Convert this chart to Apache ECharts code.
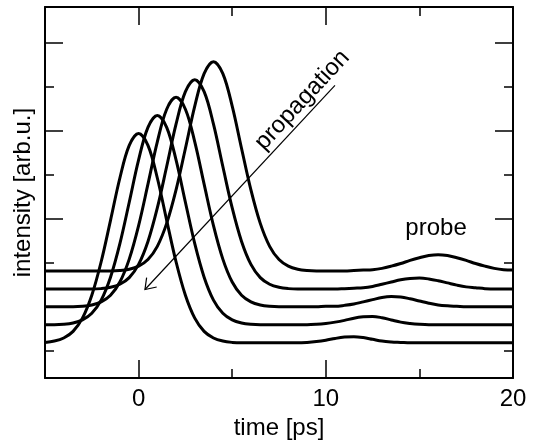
<!DOCTYPE html>
<html>
<head>
<meta charset="utf-8">
<script src="https://cdn.jsdelivr.net/npm/echarts@6/dist/echarts.min.js"></script>
<style>
  html, body { margin: 0; padding: 0; background: #ffffff; }
  #chart { width: 535px; height: 445px; }
</style>
</head>
<body>
<div id="chart"></div>
<script>
// time axis samples [ps]
const times = [
  -5, -4.5, -4, -3.5, -3, -2.5, -2, -1.5, -1, -0.5, 0,
  0.5, 1, 1.5, 2, 2.5, 3, 3.5, 4, 4.5, 5,
  5.5, 6, 6.5, 7, 7.5, 8, 8.5, 9, 9.5, 10,
  10.5, 11, 11.5, 12, 12.5, 13, 13.5, 14, 14.5, 15,
  15.5, 16, 16.5, 17, 17.5, 18, 18.5, 19, 19.5, 20
];

// intensity traces, stacked with a vertical offset (bottom to top)
const trace1 = [
  1.20, 1.23, 1.30, 1.45, 1.75, 2.27, 3.03, 3.97, 4.93, 5.67, 5.94,
  5.67, 4.93, 3.97, 3.03, 2.27, 1.75, 1.45, 1.30, 1.23, 1.20,
  1.19, 1.19, 1.19, 1.19, 1.19, 1.19, 1.19, 1.20, 1.22, 1.25,
  1.29, 1.32, 1.33, 1.31, 1.27, 1.23, 1.21, 1.20, 1.19, 1.19,
  1.19, 1.19, 1.19, 1.19, 1.19, 1.19, 1.19, 1.19, 1.19, 1.19
];
const trace2 = [
  1.60, 1.60, 1.61, 1.64, 1.71, 1.86, 2.16, 2.68, 3.44, 4.38, 5.34,
  6.08, 6.35, 6.08, 5.34, 4.38, 3.44, 2.68, 2.16, 1.86, 1.71,
  1.64, 1.61, 1.60, 1.60, 1.60, 1.60, 1.60, 1.60, 1.61, 1.63,
  1.66, 1.70, 1.75, 1.78, 1.79, 1.76, 1.71, 1.66, 1.63, 1.61,
  1.60, 1.60, 1.60, 1.60, 1.60, 1.60, 1.60, 1.60, 1.60, 1.60
];
const trace3 = [
  2.01, 2.01, 2.01, 2.01, 2.02, 2.05, 2.12, 2.27, 2.57, 3.09, 3.85,
  4.79, 5.75, 6.49, 6.76, 6.49, 5.75, 4.79, 3.85, 3.09, 2.57,
  2.27, 2.12, 2.05, 2.02, 2.01, 2.01, 2.01, 2.01, 2.01, 2.02,
  2.02, 2.04, 2.07, 2.12, 2.17, 2.22, 2.24, 2.23, 2.19, 2.14,
  2.09, 2.05, 2.03, 2.02, 2.01, 2.01, 2.01, 2.01, 2.01, 2.01
];
const trace4 = [
  2.41, 2.41, 2.41, 2.41, 2.41, 2.41, 2.42, 2.45, 2.52, 2.67, 2.97,
  3.49, 4.25, 5.19, 6.15, 6.89, 7.16, 6.89, 6.15, 5.19, 4.25,
  3.49, 2.97, 2.67, 2.52, 2.45, 2.42, 2.41, 2.41, 2.41, 2.41,
  2.41, 2.42, 2.43, 2.44, 2.47, 2.52, 2.57, 2.62, 2.65, 2.66,
  2.64, 2.60, 2.55, 2.50, 2.46, 2.44, 2.42, 2.41, 2.41, 2.41
];
const trace5 = [
  2.82, 2.82, 2.82, 2.82, 2.82, 2.82, 2.82, 2.82, 2.83, 2.86, 2.93,
  3.08, 3.38, 3.90, 4.66, 5.60, 6.56, 7.30, 7.57, 7.30, 6.56,
  5.60, 4.66, 3.90, 3.38, 3.08, 2.93, 2.86, 2.83, 2.82, 2.82,
  2.82, 2.82, 2.83, 2.84, 2.85, 2.88, 2.93, 2.99, 3.06, 3.12,
  3.17, 3.19, 3.17, 3.12, 3.06, 2.99, 2.93, 2.88, 2.85, 2.84
];
const traces = [trace1, trace2, trace3, trace4, trace5];

// axis ranges and tick positions
const xRange = [-5, 20];
const yRange = [0.39, 8.81];
const xMajorTicks = [0, 10, 20];
const xMinorTicks = [5, 15];
const yMajorTicks = [2, 4, 6, 8];
const yMinorTicks = [1, 3, 5, 7];

// annotation anchors in data coordinates
const arrowTail = [10.49, 7.03];
const arrowTip = [0.34, 2.40];
const propagationCenter = [8.75, 6.70];
const probeCenter = [15.89, 3.79];

const FONT = "'Liberation Sans', Arial, Helvetica, sans-serif";
const INK = '#000000';

const chart = echarts.init(document.getElementById('chart'), null, { renderer: 'canvas' });

function xAxisDef(position, ticks, len, withLine, withLabels) {
  return {
    type: 'value', position, min: xRange[0], max: xRange[1],
    axisLine: { show: withLine, onZero: false, lineStyle: { color: INK, width: 2 } },
    axisTick: { show: true, inside: true, length: len, customValues: ticks,
                lineStyle: { color: INK, width: 1.5 } },
    axisLabel: withLabels
      ? { show: true, customValues: ticks, margin: 9, color: INK, fontSize: 24, fontFamily: FONT }
      : { show: false },
    splitLine: { show: false }
  };
}
function yAxisDef(position, ticks, len, withLine) {
  return {
    type: 'value', position, min: yRange[0], max: yRange[1],
    axisLine: { show: withLine, onZero: false, lineStyle: { color: INK, width: 2 } },
    axisTick: { show: true, inside: true, length: len, customValues: ticks,
                lineStyle: { color: INK, width: 1.5 } },
    axisLabel: { show: false },
    splitLine: { show: false }
  };
}

const xAxes = [
  Object.assign(xAxisDef('bottom', xMajorTicks, 18, true, true), {
    name: 'time [ps]', nameLocation: 'middle', nameGap: 35,
    nameTextStyle: { color: INK, fontSize: 24, fontFamily: FONT }
  }),
  xAxisDef('bottom', xMinorTicks, 9, false, false),
  xAxisDef('top', xMajorTicks, 18, true, false),
  xAxisDef('top', xMinorTicks, 9, false, false)
];
const yAxes = [
  Object.assign(yAxisDef('left', yMajorTicks, 18, true), {
    name: 'intensity [arb.u.]', nameLocation: 'middle', nameGap: 10,
    nameTextStyle: { color: INK, fontSize: 24, fontFamily: FONT }
  }),
  yAxisDef('left', yMinorTicks, 9, false),
  yAxisDef('right', yMajorTicks, 18, true),
  yAxisDef('right', yMinorTicks, 9, false)
];

const series = traces.map((vals, k) => ({
  name: 'trace' + (k + 1),
  type: 'line',
  xAxisIndex: 0, yAxisIndex: 0,
  data: times.map((t, i) => [t, vals[i]]),
  smooth: 0.35,
  showSymbol: false,
  lineStyle: { color: INK, width: 3 },
  emphasis: { disabled: true },
  animation: false
}));

chart.setOption({
  animation: false,
  backgroundColor: '#ffffff',
  grid: { left: 45, right: 22, top: 7, bottom: 64, containLabel: false },
  xAxis: xAxes,
  yAxis: yAxes,
  series
});

// annotations: arrow with rotated caption, and the probe label
function px(p) { return chart.convertToPixel({ xAxisIndex: 0, yAxisIndex: 0 }, p); }
const tail = px(arrowTail);
const tip = px(arrowTip);
const dx = tail[0] - tip[0], dy = tail[1] - tip[1];
const L = Math.hypot(dx, dy);
const ux = dx / L, uy = dy / L;
const headLen = 12, headAng = 35 * Math.PI / 180;
function rot(x, y, a) { return [x * Math.cos(a) - y * Math.sin(a), x * Math.sin(a) + y * Math.cos(a)]; }
const arm1 = rot(ux, uy, headAng), arm2 = rot(ux, uy, -headAng);
const angle = Math.atan2(-dy, dx);
const cap = px(propagationCenter);
const prb = px(probeCenter);

chart.setOption({
  graphic: [
    { type: 'line', z: 100, shape: { x1: tip[0], y1: tip[1], x2: tail[0], y2: tail[1] },
      style: { stroke: INK, lineWidth: 1.2 } },
    { type: 'polyline', z: 100,
      shape: { points: [
        [tip[0] + arm1[0] * headLen, tip[1] + arm1[1] * headLen],
        [tip[0], tip[1]],
        [tip[0] + arm2[0] * headLen, tip[1] + arm2[1] * headLen]
      ] },
      style: { stroke: INK, lineWidth: 1.2, fill: null } },
    { type: 'text', z: 100, x: cap[0], y: cap[1], rotation: angle,
      style: { text: 'propagation', fill: INK, fontSize: 24, fontFamily: FONT,
               textAlign: 'center', textVerticalAlign: 'middle' } },
    { type: 'text', z: 100, x: prb[0], y: prb[1],
      style: { text: 'probe', fill: INK, fontSize: 24, fontFamily: FONT,
               textAlign: 'center', textVerticalAlign: 'middle' } }
  ]
});
</script>
</body>
</html>
